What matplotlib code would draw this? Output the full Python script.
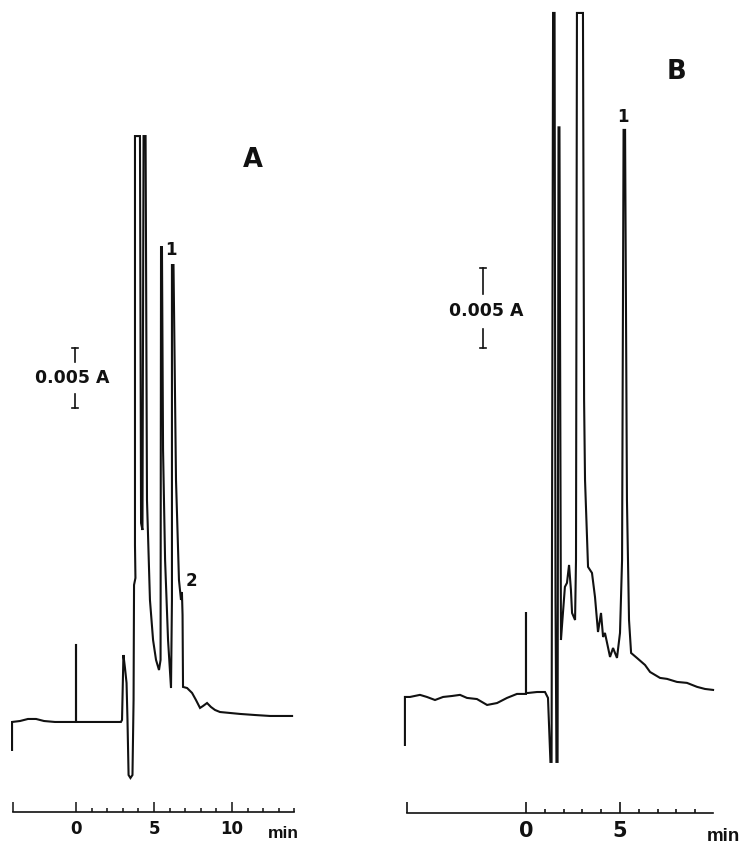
import matplotlib
matplotlib.use("Agg")
import matplotlib.pyplot as plt
from matplotlib.ticker import FixedLocator, FixedFormatter

# ---------------- data (time in min, signal in mAU above baseline) -------------
time_a = [-4.10, -4.10, -3.59, -3.08, -2.56, -2.05, -1.35, 0.0, 0.0, 0.0,
          2.88, 2.95, 3.04, 3.14, 3.24, 3.30, 3.37, 3.49, 3.62, 3.69, 3.72, 3.81, 3.78,
          3.78, 4.10, 4.17, 4.26, 4.33, 4.46, 4.55, 4.74, 4.94, 5.13, 5.32, 5.42, 5.45,
          5.51, 5.58, 5.71, 5.90, 6.09, 6.15, 6.15, 6.25, 6.41, 6.60, 6.73, 6.79, 6.83,
          6.86, 7.12, 7.44, 7.69, 7.95, 8.14, 8.40, 8.65, 8.91, 9.23, 9.87, 10.51, 11.47,
          12.44, 13.85]
signal_a = [-2.33, 0.0, 0.08, 0.25, 0.25, 0.08, 0.0, 0.0, 6.5, 0.0,
            0.0, 0.17, 5.58, 4.5, 3.25, 0.17, -4.42, -4.67, -4.42, 1.83, 11.42, 12.0, 14.75,
            48.83, 48.83, 16.58, 16.0, 48.83, 48.83, 18.5, 10.17, 6.83, 5.17, 4.33, 5.17, 39.58,
            39.58, 22.67, 13.5, 6.83, 2.83, 10.17, 38.08, 38.08, 20.17, 11.83, 10.17, 10.83, 8.92,
            2.92, 2.83, 2.42, 1.83, 1.17, 1.33, 1.58, 1.25, 1.0, 0.83, 0.75, 0.67, 0.58,
            0.5, 0.5]

time_b = [-6.44, -6.44, -6.17, -5.64, -5.27, -4.84, -4.41, -3.94, -3.51, -3.14, -2.61,
          -2.07, -1.54, -1.01, -0.48, 0.0, 0.0, 0.0, 0.11, 0.59, 1.01, 1.17,
          1.30, 1.36, 1.44, 1.52, 1.57, 1.62, 1.68, 1.73, 1.78, 1.86, 1.91, 2.07, 2.18,
          2.29, 2.39, 2.45, 2.61, 2.66, 2.71, 3.03, 3.09, 3.14, 3.30, 3.51, 3.67, 3.83,
          3.99, 4.10, 4.20, 4.47, 4.63, 4.84, 5.00, 5.11, 5.19, 5.27, 5.37, 5.48, 5.59,
          5.90, 6.33, 6.60, 7.13, 7.50, 8.03, 8.56, 9.10, 9.52, 9.95]
signal_b = [-3.0, 0.0, 0.0, 0.13, 0.0, -0.19, 0.0, 0.06, 0.13, -0.06, -0.13,
            -0.5, -0.38, -0.06, 0.19, 0.19, 5.31, 0.25, 0.25, 0.31, 0.31, -0.06,
            -4.06, -4.06, 42.75, 42.75, 6.06, -4.06, -4.06, 35.6, 35.6, 3.56, 4.38, 6.88, 7.13,
            8.25, 6.69, 5.25, 4.81, 8.56, 42.75, 42.75, 18.56, 13.56, 8.13, 7.75, 6.25, 4.06,
            5.25, 3.75, 4.0, 2.5, 3.06, 2.44, 4.0, 8.56, 35.44, 35.44, 12.31, 4.81, 2.75,
            2.44, 2.0, 1.56, 1.19, 1.13, 0.94, 0.88, 0.63, 0.5, 0.44]

axis_a_start, axis_a_end = -4.04, 14.0
major_a = [0, 5, 10]
minor_a = [1, 2, 3, 4, 6, 7, 8, 9, 11, 12, 13, 14]
axis_b_start, axis_b_end = -6.33, 9.95
major_b = [0, 5]
minor_b = [1, 2, 3, 4, 6, 7, 8, 9]

scale_bar = 5.0          # mAU  -> "0.005 A"
scale_label = "0.005 A"
peak_labels_a = ["1", "2"]
peak_labels_b = ["1"]

INK = "#111111"

fig = plt.figure(figsize=(7.45, 8.44), dpi=100)
fig.patch.set_facecolor("white")

axA = fig.add_axes([0, 0, 372 / 745, 1])
axB = fig.add_axes([372 / 745, 0, 373 / 745, 1])

axA.set_xlim(-4.872, 18.974)
axA.set_ylim(-10.17, 60.17)
axB.set_xlim(-8.191, 11.649)
axB.set_ylim(-9.19, 43.56)

axA.plot(time_a, signal_a, color=INK, lw=1.5, solid_joinstyle="miter")
axB.plot(time_b, signal_b, color=INK, lw=1.5, solid_joinstyle="miter")


def time_axis(ax, ypos, start, end, majors, minors, fs, mlen, ticklw):
    for s in ["top", "left", "right"]:
        ax.spines[s].set_visible(False)
    ax.patch.set_visible(False)
    sp = ax.spines["bottom"]
    sp.set_position(("data", ypos))
    sp.set_bounds(start, end)
    sp.set_linewidth(1.2)
    sp.set_color(INK)
    ax.set_yticks([])
    ax.xaxis.set_major_locator(FixedLocator([start] + majors))
    ax.xaxis.set_major_formatter(FixedFormatter([""] + [str(m) for m in majors]))
    ax.xaxis.set_minor_locator(FixedLocator(minors))
    ax.tick_params(axis="x", which="major", direction="in", length=mlen, width=ticklw,
                   color=INK, pad=6, labelsize=fs)
    ax.tick_params(axis="x", which="minor", direction="in", length=2.6, width=ticklw,
                   color=INK)
    for lab in ax.get_xticklabels():
        lab.set_fontweight("bold")
        lab.set_color(INK)


time_axis(axA, -7.5, axis_a_start, axis_a_end, major_a, minor_a, 12, 7, 1.1)
time_axis(axB, -7.25, axis_b_start, axis_b_end, major_b, minor_b, 15, 8, 1.2)

min_kw = dict(fontweight="bold", color=INK, ha="center", va="center",
              family=["Liberation Sans", "DejaVu Sans"])
axA.text(13.27, -9.3, "min", fontsize=12.5, **min_kw)
axB.text(10.48, -8.7, "min", fontsize=13.5, **min_kw)


def scale_bar_draw(ax, t, bottom, gap_lo, gap_hi, cap, fs, tx):
    top = bottom + scale_bar
    ax.plot([t, t], [gap_hi, top], color=INK, lw=1.2)
    ax.plot([t, t], [bottom, gap_lo], color=INK, lw=1.2)
    ax.plot([t - cap, t + cap], [top, top], color=INK, lw=1.2)
    ax.plot([t - cap, t + cap], [bottom, bottom], color=INK, lw=1.2)
    ax.text(tx, (gap_lo + gap_hi) / 2, scale_label, fontsize=fs, fontweight="bold",
            color=INK, ha="center", va="center")


scale_bar_draw(axA, -0.06, 26.17, 27.33, 30.0, 0.22, 12.5, -0.27)
scale_bar_draw(axB, -2.29, 21.81, 23.0, 25.2, 0.18, 12.5, -2.1)

lab_kw = dict(fontweight="bold", color=INK, ha="center", va="center")
axA.text(6.09, 39.33, peak_labels_a[0], fontsize=12, **lab_kw)
axA.text(7.37, 11.75, peak_labels_a[1], fontsize=12, **lab_kw)
axB.text(5.16, 36.25, peak_labels_b[0], fontsize=12, **lab_kw)

panel_kw = dict(fontweight="bold", color=INK, ha="center", va="center",
                family=["Liberation Sans Narrow", "DejaVu Sans"], fontsize=18.5)
axA.text(11.35, 46.8, "A", **panel_kw)
axB.text(7.98, 39.06, "B", **panel_kw)

fig.savefig("out.png", dpi=100, facecolor="white")
